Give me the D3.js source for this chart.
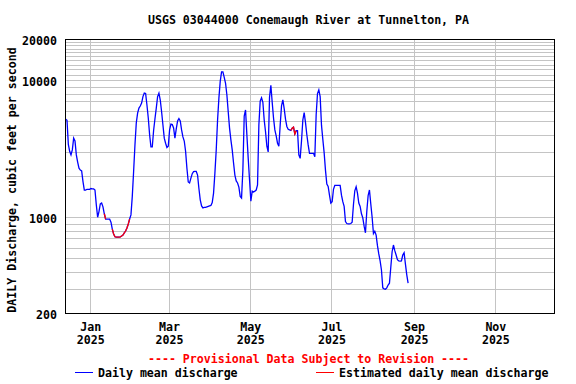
<!DOCTYPE html>
<html>
<head>
<meta charset="utf-8">
<script src="https://cdn.jsdelivr.net/npm/d3@7"></script>
<style>
body { margin: 0; background: #fff; }
text { font-family: "DejaVu Sans Mono", monospace; font-size: 11.6px; font-weight: bold; fill: #000; }
</style>
</head>
<body>
<script>
// daily mean discharge, cfs, one value per day starting at startDate
const startDate = "2024-12-13";
const dailyFlow = [
    5200, 5100, 3400, 3030, 2850, 3100, 3780, 3600, 2850, 2530,
    2280, 2210, 2180, 1820, 1580, 1580, 1600, 1600, 1600, 1620,
    1610, 1610, 1580, 1230, 1000, 1100, 1250, 1270, 1190, 1060,
    970, 970, 970, 970, 920, 820, 755, 720, 715, 715,
    715, 720, 730, 742, 768, 793, 835, 893, 970, 1040,
    1420, 2160, 3370, 4880, 5760, 6260, 6480, 6820, 7600, 8060,
    8000, 6600, 5300, 4000, 3260, 3260, 4300, 5210, 6260, 7590,
    8060, 7170, 5890, 4710, 3780, 3470, 3230, 3300, 4340, 4790,
    4750, 4480, 3780, 4410, 5050, 5250, 5050, 4340, 3860, 3600,
    3030, 2280, 1810, 1780, 1930, 2080, 2150, 2160, 2160, 2030,
    1620, 1340, 1210, 1170, 1180, 1180, 1190, 1200, 1210, 1220,
    1280, 1500, 2100, 3100, 5100, 7400, 9800, 11500, 11500, 10500,
    9500, 7800, 5890, 4470, 3670, 3100, 2490, 2030, 1840, 1780,
    1660, 1420, 1380, 2210, 5480, 6070, 3990, 2690, 1870, 1310,
    1550, 1530, 1550, 1580, 1720, 4710, 7030, 7440, 6900, 5130,
    4210, 3300, 3000, 7500, 9200, 6900, 5300, 4340, 3930, 3470,
    3300, 4700, 6500, 7200, 6200, 5200, 4600, 4380, 4340, 4300,
    4470, 4550, 4050, 4280, 4280, 2850, 2690, 3600, 5130, 5800,
    4900, 4000, 3370, 2930, 2930, 2930, 2930, 2760, 5600, 8000,
    8500, 7600, 4700, 3700, 2950, 2200, 1750, 1680, 1450, 1270,
    1300, 1600, 1710, 1710, 1710, 1710, 1710, 1450, 1300, 1200,
    930, 900, 895, 895, 900, 920, 1240, 1560, 1670, 1500,
    1270, 1200, 1060, 990, 860, 770, 1100, 1440, 1580, 1250,
    1000, 760, 790, 740, 620, 540, 480, 412, 305, 300,
    298, 305, 320, 330, 430, 560, 627, 570, 530, 490,
    480, 478, 480, 530, 550, 455, 380, 330
];
// days flagged "e" (estimated)
const estimatedRanges = [
    ["2025-01-11", "2025-01-12"],
    ["2025-01-17", "2025-01-30"],
    ["2025-05-31", "2025-06-04"],
    ["2025-07-31", "2025-07-31"]
];
const xDomain = ["2024-12-13", "2025-12-15"];
const xTickDates = ["2025-01-01", "2025-03-01", "2025-05-01", "2025-07-01", "2025-09-01", "2025-11-01"];
const yDomain = [200, 20000];
const yTickValues = [200, 1000, 10000, 20000];

const titleText = "USGS 03044000 Conemaugh River at Tunnelton, PA";
const yLabelText = "DAILY Discharge, cubic feet per second";
const provisionalText = "---- Provisional Data Subject to Revision ----";
const legendItems = ["Daily mean discharge", "Estimated daily mean discharge"];

// set the dimensions and margins of the graph
var margin = {top: 39, right: 22, bottom: 71, left: 65},
    width = 576 - margin.left - margin.right,
    height = 384 - margin.top - margin.bottom;

var parseDay = d3.utcParse("%Y-%m-%d");

var start = parseDay(startDate);
var data = dailyFlow.map(function (v, i) {
    return {date: d3.utcHour.offset(d3.utcDay.offset(start, i), 12), value: v, estimated: false};
});
estimatedRanges.forEach(function (r) {
    var a = parseDay(r[0]), b = parseDay(r[1]);
    data.forEach(function (d) {
        if (d.date >= a && d.date <= d3.utcDay.offset(b, 1)) d.estimated = true;
    });
});

var x = d3.scaleUtc().domain(xDomain.map(parseDay)).range([0, width]);
var y = d3.scaleLog().domain(yDomain).range([height, 0]);

var svg = d3.select("body").append("svg")
    .attr("width", 576)
    .attr("height", 384);

var g = svg.append("g")
    .attr("transform", "translate(" + margin.left + "," + margin.top + ")");

// gridlines: every 100 below 1000, every 1000 above
var yGrid = d3.range(300, 1000, 100)
    .concat(d3.range(1000, 10000, 1000))
    .concat(d3.range(10000, 20000, 1000));

g.append("g").selectAll("line")
    .data(yGrid)
    .join("line")
    .attr("x1", 0).attr("x2", width)
    .attr("y1", d => Math.round(y(d)) + 0.5)
    .attr("y2", d => Math.round(y(d)) + 0.5)
    .attr("stroke", "#c4c4c4")
    .attr("shape-rendering", "crispEdges");

g.append("g").selectAll("line")
    .data(xTickDates.map(parseDay))
    .join("line")
    .attr("x1", d => Math.round(x(d)) + 0.5)
    .attr("x2", d => Math.round(x(d)) + 0.5)
    .attr("y1", 0).attr("y2", height)
    .attr("stroke", "#c4c4c4")
    .attr("shape-rendering", "crispEdges");

// the discharge line
var valueline = d3.line()
    .x(d => x(d.date))
    .y(d => y(d.value));

g.append("path")
    .datum(data)
    .attr("fill", "none")
    .attr("stroke", "#0000ff")
    .attr("stroke-width", 1.3)
    .attr("d", valueline);

// estimated runs drawn over in red
var runs = [];
var cur = null;
data.forEach(function (d) {
    if (d.estimated) {
        if (!cur) { cur = []; runs.push(cur); }
        cur.push(d);
    } else {
        cur = null;
    }
});
g.append("g").selectAll("path")
    .data(runs)
    .join("path")
    .attr("fill", "none")
    .attr("stroke", "#ff0000")
    .attr("stroke-width", 1.3)
    .attr("d", valueline);

// frame
g.append("rect")
    .attr("x", 0.5).attr("y", 0.5)
    .attr("width", width).attr("height", height)
    .attr("fill", "none")
    .attr("stroke", "#000")
    .attr("shape-rendering", "crispEdges");

// Y axis labels
var yAxis = d3.axisLeft(y).tickValues(yTickValues).tickSize(0).tickPadding(8)
    .tickFormat(d3.format("d"));
g.append("g")
    .call(yAxis)
    .call(a => a.select(".domain").remove())
    .selectAll("text")
    .attr("dy", null)
    .attr("y", 5)
    .style("font-family", "DejaVu Sans Mono")
    .style("font-size", "11.6px")
    .style("font-weight", "bold");

// X axis labels, month over year
var fmtMonth = d3.utcFormat("%b"), fmtYear = d3.utcFormat("%Y");
var xl = g.append("g").selectAll("text")
    .data(xTickDates.map(parseDay))
    .join("text")
    .attr("text-anchor", "middle");
xl.append("tspan")
    .attr("x", d => x(d) + 0.5)
    .attr("y", height + 18)
    .text(fmtMonth);
xl.append("tspan")
    .attr("x", d => x(d) + 0.5)
    .attr("y", height + 31)
    .text(fmtYear);

// title
svg.append("text")
    .attr("x", 308.5).attr("y", 24)
    .attr("text-anchor", "middle")
    .text(titleText);

// y label
svg.append("text")
    .attr("transform", "translate(16,180) rotate(-90)")
    .attr("text-anchor", "middle")
    .text(yLabelText);

// provisional note
svg.append("text")
    .attr("x", 308.5).attr("y", 363)
    .attr("text-anchor", "middle")
    .style("fill", "#ff0000")
    .text(provisionalText);

// legend
var legendColors = ["#0000ff", "#ff0000"];
var legendX = [75, 316];
legendItems.forEach(function (name, i) {
    svg.append("line")
        .attr("x1", legendX[i]).attr("x2", legendX[i] + 18)
        .attr("y1", 372.5).attr("y2", 372.5)
        .attr("stroke", legendColors[i])
        .attr("shape-rendering", "crispEdges");
    svg.append("text")
        .attr("x", legendX[i] + 23).attr("y", 377)
        .text(name);
});
</script>
</body>
</html>
